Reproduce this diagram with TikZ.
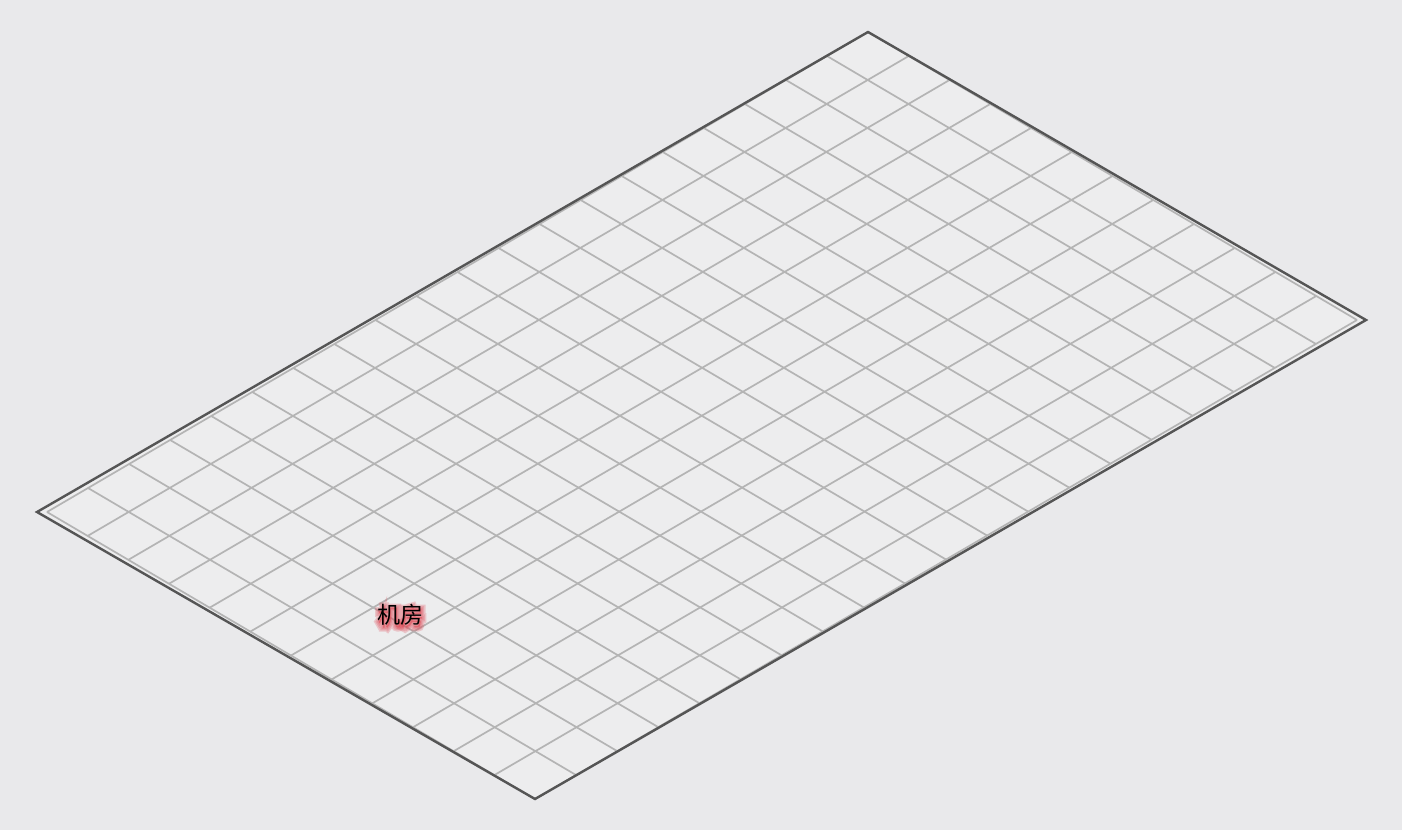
\documentclass[tikz,border=0pt]{standalone}
\usepackage{fontspec}
\newfontfamily\cjk{Noto Sans CJK SC}
\newfontfamily\cjkglowA[FakeBold=12]{Noto Sans CJK SC}
\newfontfamily\cjkglowB[FakeBold=24]{Noto Sans CJK SC}
\newfontfamily\cjkglowC[FakeBold=36]{Noto Sans CJK SC}
\usetikzlibrary{calc}
\definecolor{bg}{HTML}{E9E9EB}
\definecolor{planefill}{HTML}{EDEDEE}
\definecolor{gridcol}{HTML}{B4B4B4}
\definecolor{edgecol}{HTML}{555555}
\definecolor{glowcol}{HTML}{E0505C}
\tikzset{
  gridline/.style={draw=gridcol, line width=1.7pt},
  outline/.style={draw=edgecol, line width=2.4pt, line join=miter},
  roomlabel/.style={font=\cjk\fontsize{23}{23}\selectfont, inner sep=0pt, text=black},
  glowlabel/.style={inner sep=0pt, text=glowcol, opacity=0.26},
}
\begin{document}
\begin{tikzpicture}[x=1pt,y=-1pt]
\fill[bg] (0,0) rectangle (1402,830);
\useasboundingbox (0,0) rectangle (1402,830);
% outline corners
\coordinate (L) at (37,512);
\coordinate (T) at (868,32);
\coordinate (R) at (1366,320);
\coordinate (B) at (535,799);
% grid corners
\coordinate (Lp) at (47,512);
\coordinate (Rp) at (1357,320);
\fill[planefill] (L) -- (T) -- (R) -- (B) -- cycle;
\foreach \i in {0,...,20}
  \draw[gridline] ($(Lp)!\i/20!(T)$) -- ($(B)!\i/20!(Rp)$);
\foreach \j in {0,...,12}
  \draw[gridline] ($(Lp)!\j/12!(B)$) -- ($(T)!\j/12!(Rp)$);
\draw[outline] (L) -- (T) -- (R) -- (B) -- cycle;
% label with glow
\coordinate (lc) at (400,615);
\coordinate (gc) at ($(lc)+(1,2)$);
\node[glowlabel, font=\cjkglowC\fontsize{23}{23}\selectfont] (glowC) at (gc) {机房};
\node[glowlabel, font=\cjkglowB\fontsize{23}{23}\selectfont] (glowB) at (gc) {机房};
\node[glowlabel, font=\cjkglowA\fontsize{23}{23}\selectfont] (glowA) at (gc) {机房};
\node[roomlabel] (room) at (lc) {机房};
\end{tikzpicture}
\end{document}
